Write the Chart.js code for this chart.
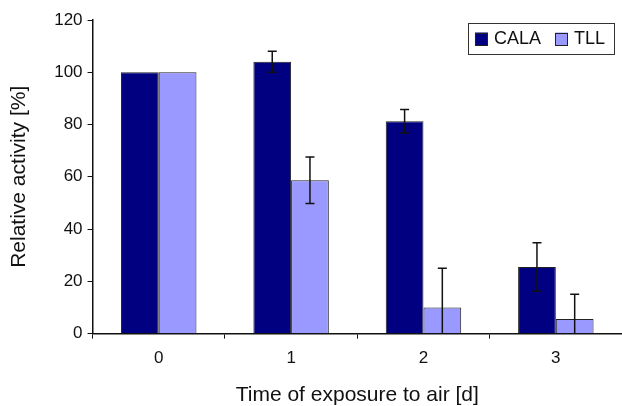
<!DOCTYPE html>
<html>
<head>
<meta charset="utf-8">
<script src="https://cdn.jsdelivr.net/npm/chart.js@4/dist/chart.umd.min.js"></script>
<style>
    html, body { margin: 0; padding: 0; background: #fff; }
    #wrap { width: 622px; height: 406px; }
</style>
</head>
<body>
<div id="wrap"><canvas id="grafico"></canvas></div>
<script>
const dias = ['0', '1', '2', '3'];
const cala = [100, 104, 81.3, 25.5];
const calaErro = [0, 4, 4.5, 9.3];
const tll = [100, 58.7, 10, 5.6];
const tllErro = [0, 8.9, 15, 9.5];

const fonte = 'Liberation Sans, Arial, sans-serif';

// barras de erro desenhadas com as escalas do próprio gráfico
const barrasErro = {
    id: 'barrasErro',
    afterDatasetsDraw(chart) {
        const { ctx, chartArea, scales } = chart;
        const erros = [calaErro, tllErro];
        ctx.save();
        ctx.strokeStyle = '#111';
        ctx.lineWidth = 1.5;
        chart.data.datasets.forEach((ds, i) => {
            const meta = chart.getDatasetMeta(i);
            meta.data.forEach((bar, j) => {
                const e = erros[i][j];
                if (!e) return;
                const v = ds.data[j];
                const yTopo = scales.y.getPixelForValue(v + e);
                let yBase = scales.y.getPixelForValue(v - e);
                const cortado = yBase > chartArea.bottom;
                if (cortado) yBase = chartArea.bottom;
                ctx.beginPath();
                ctx.moveTo(bar.x, yTopo);
                ctx.lineTo(bar.x, yBase);
                ctx.moveTo(bar.x - 4.5, yTopo);
                ctx.lineTo(bar.x + 4.5, yTopo);
                if (!cortado) {
                    ctx.moveTo(bar.x - 4.5, yBase);
                    ctx.lineTo(bar.x + 4.5, yBase);
                }
                ctx.stroke();
            });
        });
        ctx.restore();
    }
};

// legenda com moldura, no canto superior direito da área do gráfico
const legendaCaixa = {
    id: 'legendaCaixa',
    afterDraw(chart) {
        const { ctx, chartArea } = chart;
        ctx.save();
        ctx.font = '18px ' + fonte;
        ctx.textBaseline = 'middle';
        const quadrado = 13;
        const itens = chart.data.datasets.map(ds => ({
            texto: ds.label,
            cor: ds.backgroundColor,
            largura: ctx.measureText(ds.label).width
        }));
        const largura = 7 + itens.reduce((s, it) => s + quadrado + 6 + it.largura, 0) + 14 * (itens.length - 1) + 9;
        const altura = 31;
        const x0 = chartArea.right - 8 - largura;
        const y0 = chartArea.top + 3;
        ctx.fillStyle = '#fff';
        ctx.fillRect(x0, y0, largura, altura);
        ctx.strokeStyle = '#333';
        ctx.lineWidth = 1;
        ctx.strokeRect(Math.round(x0) + 0.5, Math.round(y0) + 0.5, Math.round(largura), altura);
        let x = x0 + 7;
        const yc = y0 + altura / 2 + 0.5;
        itens.forEach(it => {
            ctx.fillStyle = it.cor;
            ctx.fillRect(x, yc - quadrado / 2, quadrado, quadrado);
            ctx.strokeStyle = '#222';
            ctx.strokeRect(Math.round(x) + 0.5, Math.round(yc - quadrado / 2) + 0.5, quadrado - 1, quadrado - 1);
            x += quadrado + 6;
            ctx.fillStyle = '#111';
            ctx.fillText(it.texto, x, yc);
            x += it.largura + 14;
        });
        ctx.restore();
    }
};

const ctx = document.getElementById('grafico').getContext('2d');
new Chart(ctx, {
    type: 'bar',
    data: {
        labels: dias,
        datasets: [
            { label: 'CALA', data: cala, backgroundColor: '#000080', borderColor: '#222', borderWidth: 1, borderSkipped: 'bottom' },
            { label: 'TLL', data: tll, backgroundColor: '#9999ff', borderColor: '#222', borderWidth: 1, borderSkipped: 'bottom' }
        ]
    },
    options: {
        responsive: true,
        maintainAspectRatio: false,
        animation: false,
        layout: { padding: { top: 20, right: 0, bottom: 0, left: 7 } },
        datasets: { bar: { barPercentage: 1, categoryPercentage: 0.57 } },
        scales: {
            x: {
                grid: { drawOnChartArea: false, drawTicks: true, tickLength: 5, color: '#111', offset: true },
                border: { display: true, color: '#111', width: 1.5 },
                ticks: { color: '#111', font: { family: fonte, size: 17 }, padding: 10 },
                title: { display: true, text: 'Time of exposure to air [d]', color: '#111', font: { family: fonte, size: 21, lineHeight: 1 }, padding: { top: 6, bottom: 0 } }
            },
            y: {
                min: 0,
                max: 120,
                ticks: { stepSize: 20, color: '#111', font: { family: fonte, size: 17 }, padding: 5 },
                grid: { drawOnChartArea: false, drawTicks: true, tickLength: 5, color: '#111' },
                border: { display: true, color: '#111', width: 1.5 },
                title: { display: true, text: 'Relative activity [%]', color: '#111', font: { family: fonte, size: 21 }, padding: { top: 0, bottom: 17 } }
            }
        },
        plugins: {
            legend: { display: false },
            tooltip: { enabled: false }
        }
    },
    plugins: [barrasErro, legendaCaixa]
});
</script>
</body>
</html>
